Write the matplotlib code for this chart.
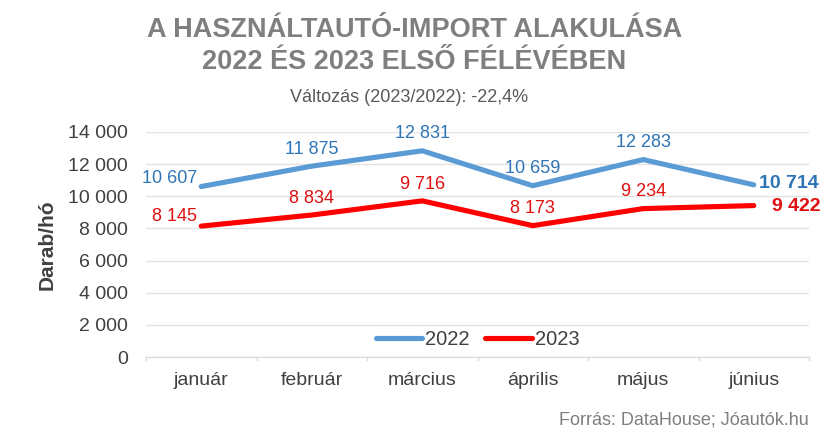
import matplotlib
matplotlib.use('Agg')
import matplotlib.pyplot as plt
from matplotlib import font_manager

months = ['január', 'február', 'március', 'április', 'május', 'június']
y2022 = [10607, 11875, 12831, 10659, 12283, 10714]
y2023 = [8145, 8834, 9716, 8173, 9234, 9422]
series_names = ['2022', '2023']
yticks = [0, 2000, 4000, 6000, 8000, 10000, 12000, 14000]

title = 'A HASZNÁLTAUTÓ-IMPORT ALAKULÁSA\n2022 ÉS 2023 ELSŐ FÉLÉVÉBEN'
subtitle = 'Változás (2023/2022): -22,4%'
source = 'Forrás: DataHouse; Jóautók.hu'

names = {f.name for f in font_manager.fontManager.ttflist}
narrow = 'Liberation Sans Narrow' if 'Liberation Sans Narrow' in names else 'Liberation Sans'

plt.rcParams['font.family'] = ['Liberation Sans', 'DejaVu Sans']

blue = '#5B9BD5'
red = '#FF0000'
blue_txt = '#2E75B6'
red_txt = '#E01010'
grey_txt = '#404040'


def fmt(v):
    return f'{v:,}'.replace(',', ' ')


fig = plt.figure(figsize=(8.29, 4.43), dpi=100)
ax = fig.add_axes([146 / 829, 86 / 443, 663 / 829, 225 / 443])

x = list(range(len(months)))
ax.plot(x, y2022, color=blue, lw=3.7, solid_capstyle='round', label=series_names[0], zorder=3)
ax.plot(x, y2023, color=red, lw=3.7, solid_capstyle='round', label=series_names[1], zorder=3)

ax.set_xlim(-0.5, len(months) - 0.5)
ax.set_ylim(0, 14000)
ax.set_yticks(yticks)
ax.set_yticklabels([fmt(v) for v in yticks])
ax.set_xticks(x)
ax.set_xticklabels(months)
ax.tick_params(axis='y', length=0, pad=13, labelsize=14, labelcolor=grey_txt)
ax.tick_params(axis='x', length=0, pad=11, labelsize=14, labelcolor=grey_txt)
for xb in [i - 0.5 for i in range(len(months) + 1)]:
    ax.plot([xb, xb], [0, -180], color='#D9D9D9', lw=1, clip_on=False)

ax.grid(axis='y', color='#E3E3E3', lw=1)
ax.set_axisbelow(True)
for s in ['top', 'right', 'left']:
    ax.spines[s].set_visible(False)
ax.spines['bottom'].set_color('#D9D9D9')

ax.set_ylabel('Darab/hó', fontsize=15, fontweight='bold', color=grey_txt, labelpad=8)

# data labels
lab = 13
for i, (a, b) in enumerate(zip(y2022, y2023)):
    if i == 0:
        ax.annotate(fmt(a), (i, a), xytext=(-3, 6), textcoords='offset points',
                    ha='right', va='center', color=blue_txt, fontsize=lab)
        ax.annotate(fmt(b), (i, b), xytext=(-3, 7), textcoords='offset points',
                    ha='right', va='center', color=red_txt, fontsize=lab)
    elif i == len(months) - 1:
        ax.annotate(fmt(a), (i, a), xytext=(4, 1), textcoords='offset points',
                    ha='left', va='center', color=blue_txt, fontsize=14, fontweight='bold')
        ax.annotate(fmt(b), (i, b), xytext=(13, -1), textcoords='offset points',
                    ha='left', va='center', color=red_txt, fontsize=14, fontweight='bold')
    else:
        ax.annotate(fmt(a), (i, a), xytext=(0, 6), textcoords='offset points',
                    ha='center', va='bottom', color=blue_txt, fontsize=lab)
        ax.annotate(fmt(b), (i, b), xytext=(0, 6), textcoords='offset points',
                    ha='center', va='bottom', color=red_txt, fontsize=lab)

leg = ax.legend(loc='lower center', bbox_to_anchor=(0.50, -0.045), ncol=2, frameon=False,
                fontsize=14.5, handlelength=2.3, handletextpad=0.15, columnspacing=0.8,
                labelcolor=grey_txt)

fig.text(0.5, 1 - 30 / 443, title.split('\n')[0], ha='center', va='center', fontsize=19.5,
         fontweight='bold', color='#7F7F7F', family=narrow)
fig.text(0.5, 1 - 62 / 443, title.split('\n')[1], ha='center', va='center', fontsize=19.5,
         fontweight='bold', color='#7F7F7F', family=narrow)
fig.text(0.494, 1 - 97 / 443, subtitle, ha='center', va='center', fontsize=13,
         color='#595959', family=narrow)
fig.text(809 / 829, 1 - 420 / 443, source, ha='right', va='center',
         fontsize=13, color='#7F7F7F')

fig.savefig('out.png', dpi=100, facecolor='white')
